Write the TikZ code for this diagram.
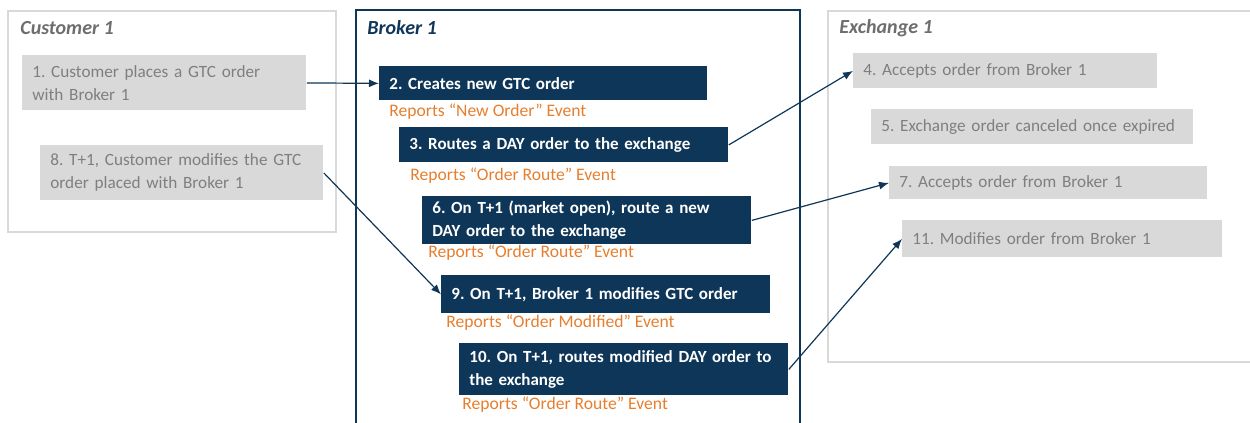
\documentclass[tikz,border=0pt]{standalone}
\usepackage{fontspec}
\setmainfont{Carlito}
\usetikzlibrary{arrows.meta}
\frenchspacing

\definecolor{navy}{RGB}{14,54,88}
\definecolor{boxgray}{RGB}{217,217,217}
\definecolor{txtgray}{RGB}{127,127,127}
\definecolor{titlegray}{RGB}{110,110,110}
\definecolor{reportorange}{RGB}{230,126,45}

\begin{document}
\begin{tikzpicture}[x=0.5pt, y=-0.5pt, >={Latex[length=5pt,width=4pt]},
  frame/.style={line width=1.2pt},
  title/.style={anchor=west, inner sep=0pt, font=\fontsize{10}{12}\selectfont\bfseries\itshape},
  graybox/.style={fill=boxgray, text=txtgray, anchor=north west, inner xsep=5pt, inner ysep=0pt,
    align=left, font=\fontsize{8.6}{11.5}\selectfont},
  navybox/.style={fill=navy, text=white, anchor=north west, inner xsep=5pt, inner ysep=0pt,
    align=left, font=\fontsize{8.5}{11.5}\selectfont\bfseries},
  report/.style={anchor=west, inner sep=0pt, text=reportorange, font=\fontsize{8.8}{11.5}\selectfont},
  link/.style={->, navy, line width=0.6pt}]

\useasboundingbox (0,0) rectangle (1250,423);
\clip (0,0) rectangle (1250,423);

% Frames
\draw[frame, boxgray] (8,11) rectangle (336,232);
\draw[frame, navy] (356,10) rectangle (800,440);
\draw[frame, boxgray] (828,11) rectangle (1270,362);

% Titles
\node[title, text=titlegray] (tcust) at (20,28) {Customer 1};
\node[title, text=navy] (tbrok) at (367,28) {Broker 1};
\node[title, text=titlegray] (texch) at (839,28) {Exchange 1};

% Customer steps
\node[graybox, text width=132pt, minimum height=27.5pt] (c1) at (22,55)
  {1. Customer places a GTC order\\with Broker 1};
\node[graybox, text width=131.5pt, minimum height=27.5pt] (c8) at (40,145)
  {8. T+1, Customer modifies the GTC\\order placed with Broker 1};

% Broker steps
\node[navybox, text width=154pt, minimum height=17pt] (b2) at (379,66)
  {2. Creates new GTC order};
\node[report] (r2) at (389,112) {Reports “New Order” Event};
\node[navybox, text width=154.5pt, minimum height=17.5pt] (b3) at (399,127)
  {3. Routes a DAY order to the exchange};
\node[report] (r3) at (410,176) {Reports “Order Route” Event};
\node[navybox, text width=154.5pt, minimum height=24pt] (b6) at (422,196)
  {6. On T+1 (market open), route a new\\DAY order to the exchange};
\node[report] (r6) at (428,253) {Reports “Order Route” Event};
\node[navybox, text width=154.5pt, minimum height=19pt] (b9) at (441,275)
  {9. On T+1, Broker 1 modifies GTC order};
\node[report] (r9) at (446,323) {Reports “Order Modified” Event};
\node[navybox, text width=154.5pt, minimum height=26pt] (b10) at (459,343)
  {10. On T+1, routes modified DAY order to\\the exchange};
\node[report] (r10) at (462,405) {Reports “Order Route” Event};

% Exchange steps
\node[graybox, text width=142pt, minimum height=17.5pt] (e4) at (853,53)
  {4. Accepts order from Broker 1};
\node[graybox, text width=151pt, minimum height=17.5pt] (e5) at (871,109)
  {5. Exchange order canceled once expired};
\node[graybox, text width=149pt, minimum height=16.5pt] (e7) at (889,166)
  {7. Accepts order from Broker 1};
\node[graybox, text width=150pt, minimum height=18.5pt] (e11) at (902,220)
  {11. Modifies order from Broker 1};

% Connectors
\draw[link] (c1.east) -- (b2.west);
\draw[link] (b3.east) -- (e4.west);
\draw[link] (b6.east) -- (e7.west);
\draw[link] (c8.east) -- (b9.west);
\draw[link] (b10.east) -- (e11.west);

\end{tikzpicture}
\end{document}
